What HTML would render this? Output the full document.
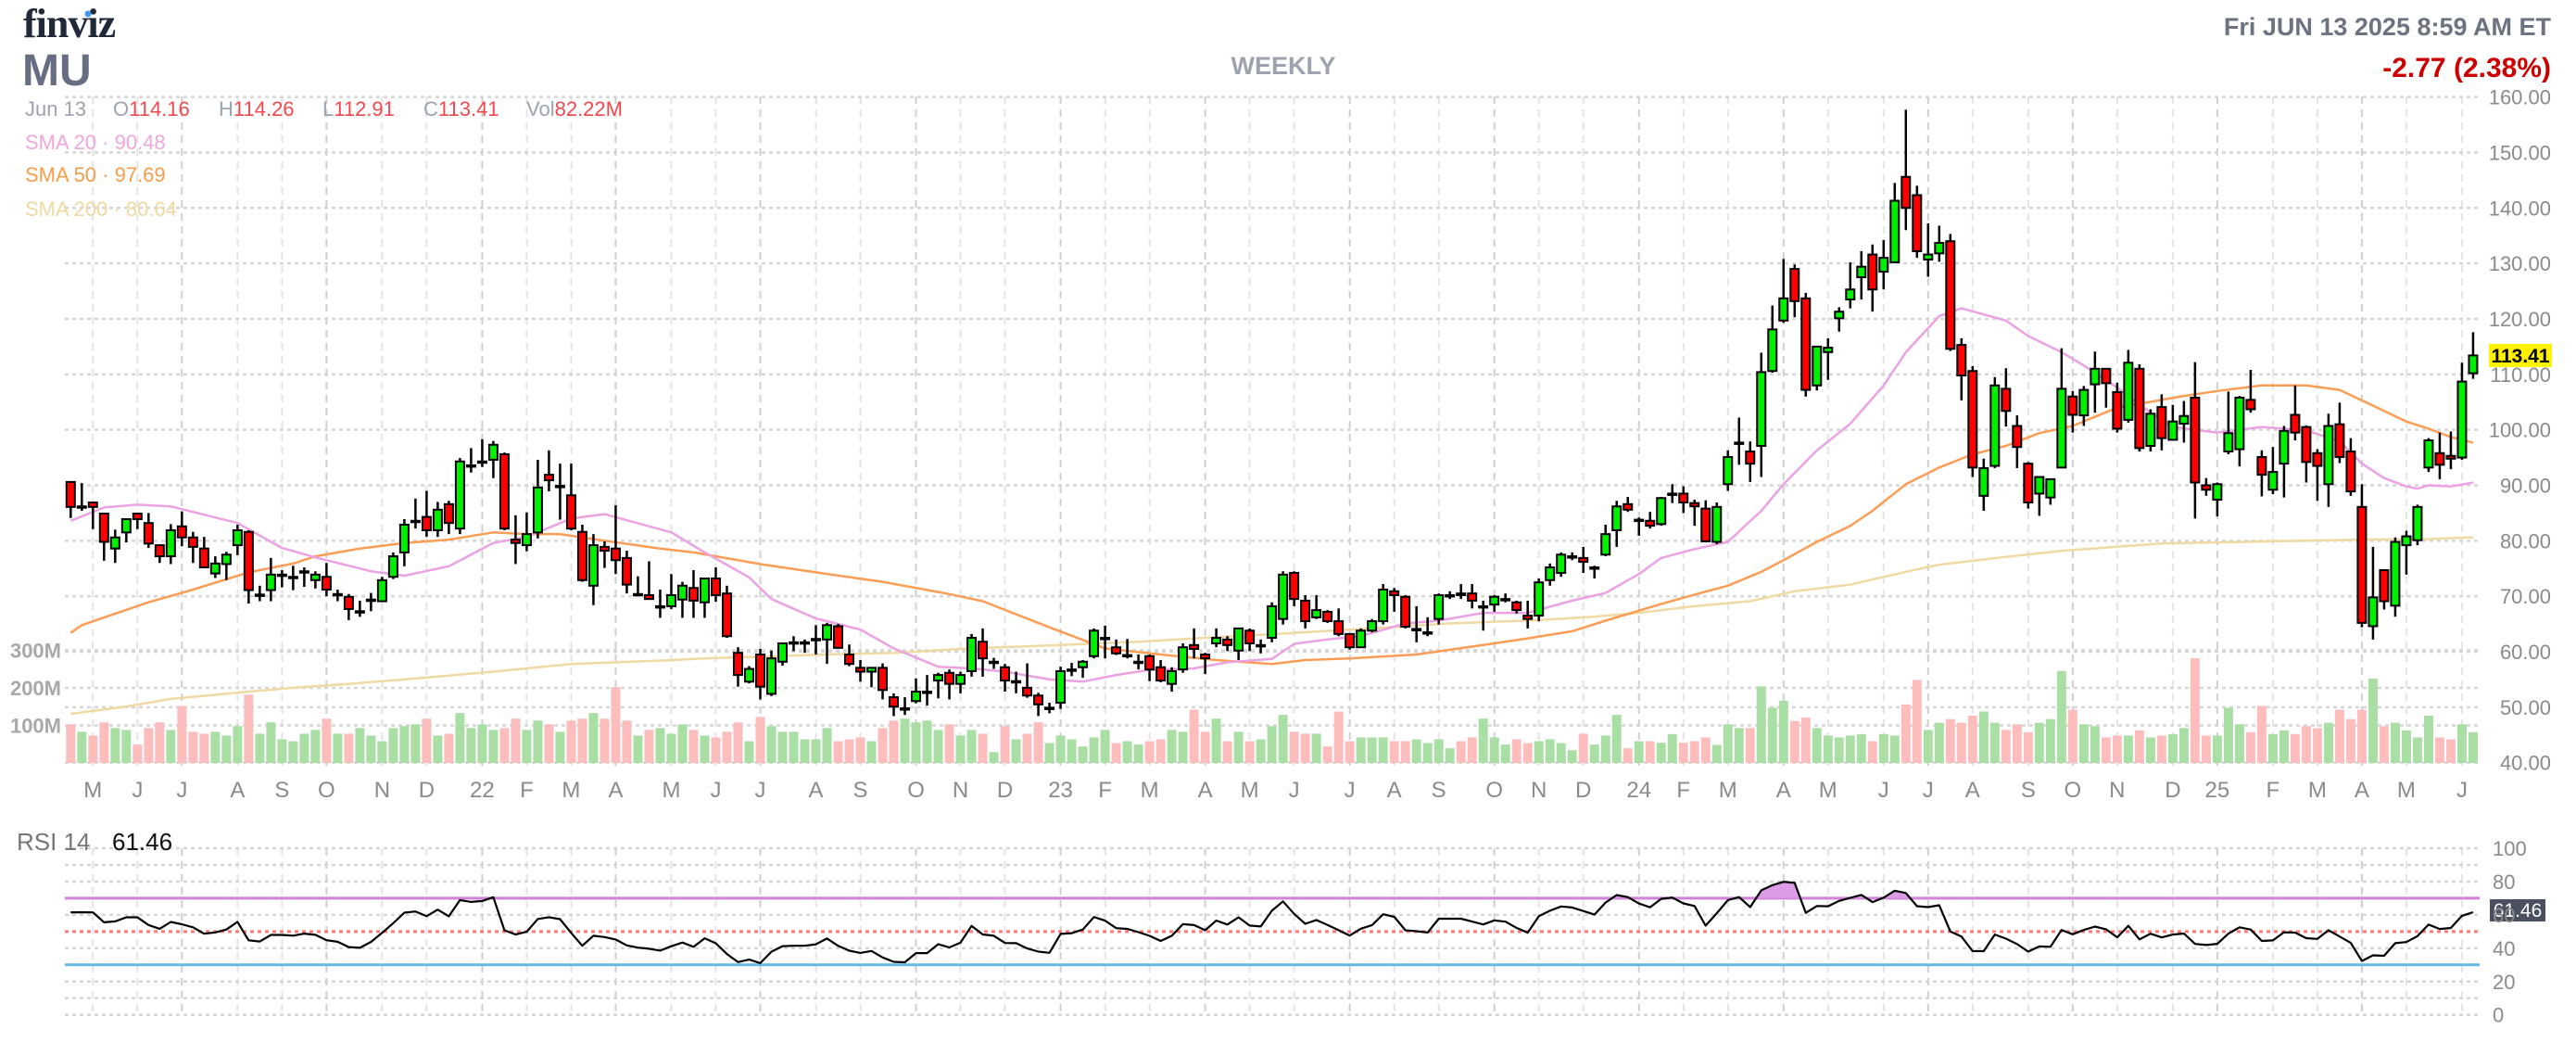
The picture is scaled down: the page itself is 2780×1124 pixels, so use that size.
<!DOCTYPE html>
<html><head><meta charset="utf-8"><title>MU Weekly</title>
<style>html,body{margin:0;padding:0;background:#fff;}svg{display:block;font-family:"Liberation Sans",sans-serif;}</style>
</head><body>
<svg id="chart" width="2780" height="1124" viewBox="0 0 2780 1124" xmlns="http://www.w3.org/2000/svg">
<rect width="2780" height="1124" fill="#fff"/>
<g id="grid"></g>
<g id="vol"></g>
<g id="sma"></g>
<g id="candles"></g>
<g id="rsi"></g>
<g id="axes"></g>
<text x="25" y="40" font-family="Liberation Serif, serif" font-weight="bold" font-size="44" fill="#1f2937" letter-spacing="-1">finviz</text>
<circle cx="95" cy="15" r="3.5" fill="#3b9cf0"/>
<text x="24" y="92" font-weight="bold" font-size="48" fill="#676e82">MU</text>
<text x="1385" y="80" text-anchor="middle" font-weight="bold" font-size="27" fill="#9ca3af">WEEKLY</text>
<text x="2753" y="38" text-anchor="end" font-weight="bold" font-size="27" fill="#6b7280">Fri JUN 13 2025 8:59 AM ET</text>
<text x="2753" y="83" text-anchor="end" font-weight="bold" font-size="30" fill="#cc0000">-2.77 (2.38%)</text>
<g font-size="22">
<text x="27" y="125" fill="#9ca3af">Jun 13</text>
<text x="122" y="125" fill="#9ca3af">O<tspan fill="#f0484e">114.16</tspan></text>
<text x="236" y="125" fill="#9ca3af">H<tspan fill="#f0484e">114.26</tspan></text>
<text x="348" y="125" fill="#9ca3af">L<tspan fill="#f0484e">112.91</tspan></text>
<text x="457" y="125" fill="#9ca3af">C<tspan fill="#f0484e">113.41</tspan></text>
<text x="568" y="125" fill="#9ca3af">Vol<tspan fill="#f0484e">82.22M</tspan></text>
</g>
<text x="27" y="161" font-size="22" fill="#f0a6dc">SMA 20 · 90.48</text>
<text x="27" y="196" font-size="22" fill="#f99c4a">SMA 50 · 97.69</text>
<text x="27" y="233" font-size="22" fill="#f0d8a0">SMA 200 · 80.64</text>
<text x="18" y="917" font-size="26" fill="#777">RSI 14</text>
<text x="121" y="917" font-size="26" fill="#111">61.46</text>
</svg>
<script>
const opens=[90.6,86.2,86.9,84.9,78.6,81.5,84.9,83.2,79.2,77.2,82.6,80.6,78.6,74.1,75.8,79.2,81.6,70.3,71.1,73.9,73.5,74.5,72.9,73.5,70.4,69.9,67.3,69.4,69.1,73.5,77.9,83.6,84.3,81.9,86.6,82.2,93.6,94.3,94.6,95.6,80.2,79.2,81.5,91.9,89.9,88.2,81.6,71.9,78.9,78.6,76.9,70.4,70.2,68.2,68.2,69.4,71.5,68.9,73.2,70.5,59.8,54.6,59.5,52.4,58.2,61.7,61.7,62.3,62.2,64.6,59.5,57.1,56.4,57.1,51.8,49.8,51.1,52.8,54.8,56.2,54.2,56.5,61.8,58.2,57.2,54.7,53.5,52.1,49.9,50.8,56.8,57.2,59.2,62.5,60.8,59.4,58.2,59.2,57.2,54.2,56.8,61.2,59.5,61.5,62.2,60.2,63.8,61.2,62.5,65.9,74.2,69.2,66.2,67.2,65.5,63.2,60.8,63.8,65.5,70.9,69.9,64.1,63.5,65.9,70.2,70.5,70.5,68.2,68.5,69.5,68.9,66.5,66.5,72.9,74.2,77.2,76.9,75.2,77.5,81.9,86.6,83.8,83.6,83.0,88.5,88.5,86.8,85.8,79.8,90.2,97.7,96.1,97.1,110.6,119.7,129.0,123.7,108.0,114.0,120.1,123.5,127.5,131.6,128.5,130.2,145.6,142.3,130.7,131.8,134.0,115.3,110.6,88.1,93.5,107.4,100.7,93.9,88.5,87.8,93.2,106.0,102.6,108.2,111.0,106.8,101.8,111.0,97.1,104.1,98.2,101.1,105.8,90.0,87.4,96.1,96.5,105.4,95.1,89.2,93.9,102.7,100.5,95.8,90.2,101.0,96.1,86.1,64.6,74.7,68.3,79.2,80.1,93.2,95.8,95.3,95.0,110.2];
const highs=[90.6,90.4,86.9,84.9,82.0,83.9,84.9,85.0,79.2,83.0,85.3,81.6,80.7,77.2,78.0,82.9,81.9,71.9,76.9,74.7,75.5,75.2,74.5,76.0,71.2,70.4,69.2,70.6,73.5,77.9,83.9,87.6,89.0,87.0,87.2,94.9,96.7,98.3,98.0,95.9,84.6,85.1,94.6,96.3,93.9,93.9,82.9,81.2,79.9,86.4,78.2,73.6,76.3,71.2,74.0,72.6,74.7,73.2,75.2,71.9,60.8,57.4,60.5,60.2,61.5,62.8,62.2,64.8,65.2,65.0,61.3,58.5,57.1,57.9,52.5,51.8,55.2,55.8,56.2,56.8,56.4,63.2,64.2,58.9,57.8,56.4,57.9,52.6,50.8,57.3,58.0,58.5,64.2,64.7,62.2,62.3,59.5,59.5,58.5,57.2,61.5,64.2,59.8,64.2,62.8,64.2,64.2,62.2,68.9,74.5,74.5,70.2,70.2,67.5,67.8,63.2,64.2,65.9,72.2,71.5,70.2,68.2,66.2,70.5,70.9,72.2,72.2,69.2,70.2,70.5,69.2,69.2,73.2,75.9,77.9,77.9,78.9,75.5,82.9,87.2,87.9,84.2,85.2,87.9,90.2,89.8,87.4,87.3,86.9,96.3,102.2,97.9,113.9,122.4,130.8,129.8,124.7,115.0,116.5,122.1,130.2,132.2,133.4,134.2,144.5,157.7,144.0,137.2,136.8,135.3,116.5,111.5,94.8,109.5,111.1,102.6,94.2,91.5,91.1,114.7,107.0,107.9,114.1,111.0,108.5,114.4,111.8,103.7,106.4,104.5,105.2,112.2,91.3,90.5,106.9,106.1,110.8,96.3,96.9,100.7,108.0,100.8,96.5,102.9,104.9,98.5,90.2,78.9,74.7,80.6,81.8,86.5,98.5,99.5,99.7,112.1,117.6];
const lows=[84.1,85.4,82.1,76.4,76.0,79.7,82.1,78.7,76.0,75.8,79.0,76.0,75.2,73.3,72.9,77.4,68.7,69.1,69.1,71.6,71.1,71.7,71.4,70.0,69.1,65.7,66.3,67.3,69.1,73.1,75.4,82.2,80.7,80.7,81.2,81.2,92.3,93.3,91.3,81.9,75.8,78.1,80.4,88.9,83.8,81.9,72.6,68.4,75.1,74.0,70.5,70.1,69.5,66.1,67.7,66.1,66.1,66.1,69.0,62.5,53.7,54.3,51.4,52.0,57.5,60.1,59.8,59.5,57.8,60.7,57.4,54.6,53.6,51.4,48.4,48.6,50.7,50.3,51.6,51.4,52.5,55.5,55.5,56.9,52.8,52.5,51.7,48.4,48.9,49.7,55.6,55.3,58.8,58.8,59.4,58.8,56.8,54.7,54.5,52.8,56.2,58.8,56.0,60.8,60.1,58.5,60.1,59.7,61.7,64.9,68.2,64.2,65.9,65.2,62.8,60.4,60.8,63.5,64.9,67.2,64.2,61.7,62.8,64.9,69.5,69.5,67.8,63.8,67.2,68.9,66.9,64.2,65.5,71.9,73.5,76.5,74.2,73.2,77.2,78.9,85.2,80.9,82.2,82.7,86.8,85.0,82.7,79.9,79.4,89.0,93.7,90.6,91.5,110.3,119.3,120.3,106.0,107.1,109.0,117.7,121.9,123.5,121.3,125.3,130.2,136.0,131.0,127.6,130.3,114.2,105.3,91.5,85.4,93.1,100.6,93.1,85.8,84.5,86.5,93.1,99.5,100.7,103.1,104.0,99.5,101.3,96.1,96.1,96.3,98.2,97.7,84.0,88.1,84.4,95.6,93.4,103.1,88.0,88.4,87.8,98.1,90.5,87.2,86.1,94.0,88.1,64.4,62.2,67.6,66.3,73.9,79.2,92.4,91.1,92.9,94.6,109.2];
const closes=[86.1,86.2,86.1,79.8,80.6,83.9,83.9,79.5,77.2,81.9,80.6,78.9,75.2,75.9,77.5,81.9,71.1,70.3,73.9,73.9,73.5,74.5,73.9,71.2,70.4,67.7,67.3,69.4,72.9,77.2,82.9,83.6,81.9,85.6,83.2,94.3,93.6,94.3,97.3,82.2,79.6,81.2,89.6,90.9,89.9,82.2,72.9,79.2,78.2,76.5,72.1,70.4,69.5,68.2,70.2,71.9,69.2,73.2,70.2,62.8,55.8,56.9,53.7,58.8,61.5,61.7,61.7,62.3,64.8,60.7,57.8,56.4,57.1,53.1,50.1,49.8,52.8,52.8,55.8,54.2,55.8,62.5,58.8,58.2,54.8,54.7,52.1,50.5,49.9,56.5,56.8,58.2,63.8,62.5,59.7,59.4,58.2,56.8,54.8,56.5,60.8,60.5,58.8,62.5,61.2,64.2,61.5,61.2,68.2,73.9,69.5,65.5,67.5,65.5,63.2,60.8,63.8,65.5,71.2,70.2,64.5,64.1,63.5,70.2,70.2,70.2,69.2,68.2,69.9,69.5,67.5,65.9,72.5,75.2,77.5,77.2,76.2,75.2,81.2,86.2,85.6,83.8,82.7,87.7,88.5,86.9,86.2,79.9,86.1,95.1,97.7,93.9,110.4,118.1,123.7,123.2,107.2,115.0,114.8,121.3,125.3,129.4,125.3,131.0,141.3,140.0,132.2,131.6,133.7,114.6,109.8,93.2,93.1,108.0,103.4,96.9,86.9,91.5,91.1,107.4,102.7,107.2,111.0,108.4,100.2,112.1,96.7,102.9,98.5,101.5,102.5,90.5,89.2,90.2,99.4,105.8,103.7,91.9,92.4,99.8,99.5,94.2,93.5,100.7,95.1,88.9,65.2,69.8,69.1,79.8,80.8,86.1,98.1,93.7,94.8,108.7,113.41];
const volumes=[103,83,73,108,93,88,49,93,108,88,152,83,78,83,73,98,182,78,108,63,58,78,88,118,78,78,93,73,58,93,98,103,118,73,78,133,93,103,88,93,118,88,113,103,83,113,118,133,118,202,113,73,88,93,78,103,88,73,68,83,108,58,123,98,83,83,63,63,93,58,63,68,58,93,113,118,108,113,88,103,73,88,78,29,98,63,78,108,53,73,63,44,68,88,53,58,49,58,63,88,83,142,83,118,58,83,58,63,98,128,83,78,78,44,137,58,68,68,68,58,58,63,53,63,39,58,68,118,68,49,63,53,58,63,53,34,78,49,73,128,39,58,58,54,77,54,58,68,48,103,93,93,204,147,166,112,121,93,73,68,73,77,58,77,73,156,221,88,107,117,107,126,137,107,88,103,82,107,117,245,142,103,98,68,73,73,87,68,73,77,93,279,73,73,147,103,82,152,77,87,77,98,93,107,142,117,142,225,98,107,87,68,126,68,63,103,82];
const sma20Idx=[0,3,6,9,15,19,22,27,30,34,38,41,45,48,54,57,61,63,67,71,74,78,81,84,88,91,94,97,101,104,108,110,113,116,120,123,127,131,135,138,141,143,146,149,152,154,157,160,163,165,168,170,174,176,179,181,184,187,189,193,197,201,204,206,208,210,211,212,214,216];
const sma20Val=[83.6,86.0,86.5,86.2,83.2,78.7,77.0,74.5,73.7,75.4,79.6,80.7,84.0,84.8,81.5,77.9,73.4,69.5,66.0,64.0,60.6,57.3,57.0,56.4,55.0,54.6,55.8,56.7,57.0,58.1,58.7,61.4,62.2,62.8,65.1,65.6,67.0,67.0,69.2,70.6,74.0,76.9,78.5,79.8,85.4,90.2,96.3,101.1,108.0,114.0,120.5,121.9,119.7,116.9,114.0,111.6,107.6,103.1,100.5,99.5,100.5,99.9,97.9,93.9,91.3,89.8,89.4,90.0,89.8,90.48];
const sma50Idx=[0,1,7,11,16,20,22,26,30,34,38,41,44,48,53,56,62,67,73,79,82,88,93,98,103,108,111,115,121,127,131,135,138,141,143,146,149,152,154,157,160,162,165,168,171,174,177,180,184,190,193,197,201,204,206,208,210,212,214,216];
const sma50Val=[63.4,64.8,68.9,71.2,74.3,75.9,77.2,78.6,79.6,80.2,81.5,81.2,81.2,80.0,78.6,77.9,75.8,74.3,72.6,70.4,69.1,64.4,60.6,59.5,58.5,57.8,58.5,58.8,59.5,61.2,62.4,63.7,65.6,67.4,68.6,70.3,71.9,74.4,76.5,79.8,82.7,85.4,90.2,93.2,95.6,97.1,99.4,100.7,104.0,106.1,107.0,108.0,108.0,107.2,105.3,103.4,101.5,100.2,98.7,97.69];
const sma200Idx=[0,5,9,16,20,25,30,34,38,41,45,49,53,57,62,68,74,81,89,96,102,110,116,124,132,137,141,146,151,155,160,165,168,174,179,188,198,206,212,216];
const sma200Val=[48.8,50.1,51.5,52.8,53.5,54.2,55.0,55.7,56.4,57.0,57.8,58.1,58.4,58.8,59.1,59.5,59.8,60.6,61.2,61.8,62.5,63.4,64.1,65.1,65.7,66.3,67.0,68.2,69.1,70.9,72.1,74.4,75.7,77.1,78.2,79.5,79.9,80.2,80.3,80.64];
const monthLabels=["M","J","J","A","S","O","N","D","22","F","M","A","M","J","J","A","S","O","N","D","23","F","M","A","M","J","J","A","S","O","N","D","24","F","M","A","M","J","J","A","S","O","N","D","25","F","M","A","M","J"];
const monthIdx=[2,6,10,15,19,23,28,32,37,41,45,49,54,58,62,67,71,76,80,84,89,93,97,102,106,110,115,119,123,128,132,136,141,145,149,154,158,163,167,171,176,180,184,189,193,198,202,206,210,215];
const quarterIdx=[10,23,37,49,62,76,89,102,115,128,141,154,167,180,193,206];
const priceTicks=[40,50,60,70,80,90,100,110,120,130,140,150,160];
const volTicks=[100,200,300];
const volTickLabels=["100M","200M","300M"];
const rsiTicks=[0,20,40,60,80,100];
const rsiGrid=[0,10,20,30,40,50,60,70,80,90,100];
const rsiSeedGain=3.2, rsiSeedLoss=2.0;

const NS="http://www.w3.org/2000/svg";
const X0=76.3, DX=12.003, XL=70, XR=2676;
function xOf(i){return X0+DX*i;}
function yP(p){return 104.6+(160-p)*5.984;}
function yV(v){return 823-v*0.405;}
function yR(r){return 915+(100-r)*1.797;}
function mk(tag,attrs,parent){const e=document.createElementNS(NS,tag);for(const k in attrs)e.setAttribute(k,attrs[k]);parent.appendChild(e);return e;}
const G=document.getElementById('grid'),V=document.getElementById('vol'),S=document.getElementById('sma'),C=document.getElementById('candles'),R=document.getElementById('rsi'),A=document.getElementById('axes');

monthIdx.forEach((mi,k)=>{
  const x=xOf(mi);const q=quarterIdx.indexOf(mi)>=0;
  let l=mk('line',{x1:x,x2:x,y1:104,y2:826,stroke:q?'#cfcfcf':'#e4e4e4','stroke-width':2,'stroke-dasharray':'8,6'},G);
  
  
  let l2=mk('line',{x1:x,x2:x,y1:915,y2:1095,stroke:q?'#cfcfcf':'#e4e4e4','stroke-width':2,'stroke-dasharray':'8,6'},G);
  
  
  let t=mk('text',{x:x,y:860,'text-anchor':'middle','font-size':24,fill:'#8a8a8a'},A);
  t.textContent=monthLabels[k];
  
  
});
priceTicks.forEach(p=>{
  const y=yP(p);
  let l=mk('line',{x1:XL,x2:XR,y1:y,y2:y,stroke:'#d6d6d6','stroke-width':2.5,'stroke-dasharray':'4,4'},G);
  
  
  let t=mk('text',{x:2753,y:y+8,'text-anchor':'end','font-size':22,fill:'#8a8a8a'},A);
  t.textContent=p.toFixed(2);
  
  
});
volTicks.forEach((v,k)=>{
  const y=yV(v);
  let l=mk('line',{x1:XL,x2:XR,y1:y,y2:y,stroke:'#d6d6d6','stroke-width':2.5,'stroke-dasharray':'4,4'},G);
  
  
  let t=mk('text',{x:66,y:y+8,'text-anchor':'end','font-size':22,'font-weight':'bold',fill:'#a8a8a8'},A);
  t.textContent=volTickLabels[k];
  
  
});
volumes.forEach((v,i)=>{
  const up=closes[i]>=opens[i];
  let r=mk('rect',{x:xOf(i)-5,y:yV(v),width:10,height:823-yV(v),fill:up?'#a9dea4':'#fdbdbd'},V);
  
  
});
function smaLine(idx,val,color,name){
  const pts=idx.map((ix,k)=>xOf(ix).toFixed(1)+','+yP(val[k]).toFixed(1)).join(' ');
  let p=mk('polyline',{points:pts,fill:'none',stroke:color,'stroke-width':2.5,'stroke-linejoin':'round'},S);
  
  
}
smaLine(sma200Idx,sma200Val,'#f0d9a2','sma200-line');
smaLine(sma50Idx,sma50Val,'#fc9d55','sma50-line');
smaLine(sma20Idx,sma20Val,'#eba2e2','sma20-line');
closes.forEach((c,i)=>{
  const o=opens[i],x=xOf(i),up=c>=o;
  let w=mk('line',{x1:x,x2:x,y1:yP(highs[i]),y2:yP(lows[i]),stroke:'#000','stroke-width':2.5},C);
  
  
  const yt=yP(Math.max(o,c)),yb=yP(Math.min(o,c));
  let b=mk('rect',{x:x-4.5,y:yt,width:9,height:Math.max(yb-yt,1.5),fill:up?'#00ee00':'#ff0000',stroke:'#000','stroke-width':2},C);
  
  
});
{const y=yP(closes[closes.length-1]);
let r=mk('rect',{x:2686,y:y-12.5,width:68,height:25,fill:'#fff200'},A);


let t=mk('text',{x:2720,y:y+7.5,'text-anchor':'middle','font-size':21,'font-weight':'bold',fill:'#000'},A);
t.textContent=closes[closes.length-1].toFixed(2);

}
rsiGrid.forEach(r=>{
  const y=yR(r);
  let st='#d6d6d6',sw=2.5,da='4,4';
  if(r===70){st='#d27fdb';sw=3;da='none';}
  else if(r===30){st='#64b9e2';sw=3;da='none';}
  else if(r===50){st='#f87a7a';sw=3;da='4,4';}
  let l=mk('line',{x1:XL,x2:XR,y1:y,y2:y,stroke:st,'stroke-width':sw,'stroke-dasharray':da},R);
  
  
});
rsiTicks.forEach(r=>{
  let t=mk('text',{x:2690,y:yR(r)+8,'font-size':22,fill:'#8a8a8a'},A);
  t.textContent=String(r);
  
  
});
const rsiVals=[];
{let ag=rsiSeedGain,al=rsiSeedLoss;rsiVals.push(100-100/(1+ag/al));
for(let i=1;i<closes.length;i++){const ch=closes[i]-closes[i-1];ag=(ag*13+Math.max(ch,0))/14;al=(al*13+Math.max(-ch,0))/14;rsiVals.push(al===0?100:100-100/(1+ag/al));}}
const rpts=rsiVals.map((r,i)=>xOf(i).toFixed(1)+','+yR(r).toFixed(1));
{const defs=mk('defs',{},R);const cp=mk('clipPath',{id:'ob'},defs);mk('rect',{x:0,y:0,width:2780,height:yR(70)},cp);
let f=mk('polygon',{points:xOf(0)+','+yR(70)+' '+rpts.join(' ')+' '+xOf(rsiVals.length-1)+','+yR(70),fill:'#dc9de6','clip-path':'url(#ob)'},R);


let p=mk('polyline',{points:rpts.join(' '),fill:'none',stroke:'#000','stroke-width':2.2,'stroke-linejoin':'round'},R);


let r=mk('rect',{x:2687,y:970,width:60,height:24,fill:'#4b5060'},R);


let t=mk('text',{x:2717,y:989,'text-anchor':'middle','font-size':21,fill:'#fff'},R);
t.textContent='61.46';

}
</script>
</body></html>
